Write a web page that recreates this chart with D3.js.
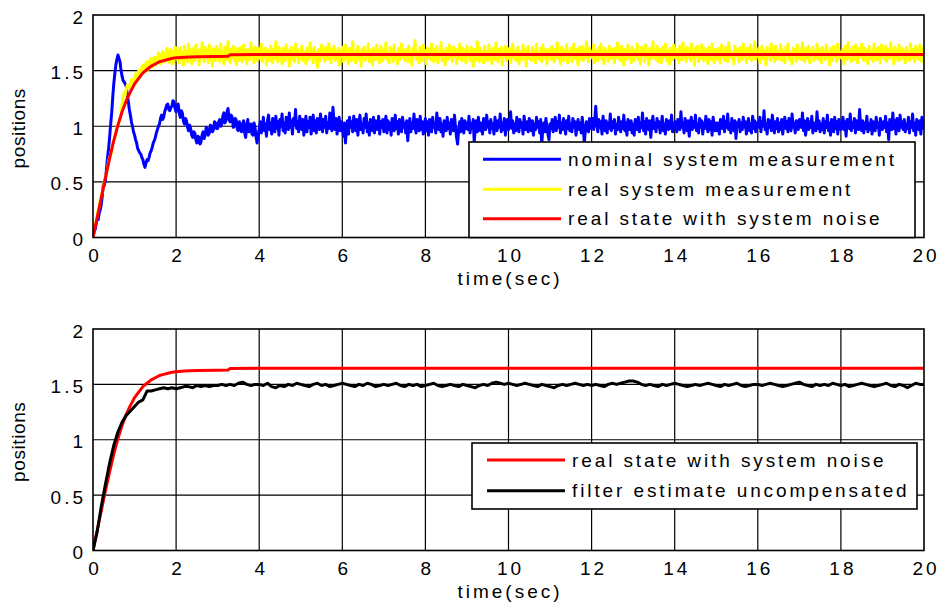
<!DOCTYPE html>
<html>
<head>
<meta charset="utf-8">
<script src="https://cdn.jsdelivr.net/npm/d3@7"></script>
<style>
  html, body { margin: 0; padding: 0; background: #fff; }
  svg { display: block; }
  text { font-family: "Liberation Sans", Arial, Helvetica, sans-serif; font-size: 19px; fill: #000; }
</style>
</head>
<body>
<svg id="chart" width="940" height="609"></svg>
<script>
// Simulation output sampled for the two position plots.
const sampleStep = 0.025;  // s, measurement series
const filterStep = 0.1;    // s, filter estimate

// Nominal system measurement (blue), t = 0 .. 20 s, one row = 0.5 s
const nominalMeasurement = [
  0.00, 0.05, 0.07, 0.12, 0.17, 0.16, 0.22, 0.25, 0.30, 0.38, 0.48, 0.47, 0.52, 0.62, 0.72, 0.80, 0.90, 1.02, 1.12, 1.26,
  1.38, 1.47, 1.55, 1.60, 1.64, 1.61, 1.58, 1.50, 1.45, 1.41, 1.40, 1.38, 1.36, 1.28, 1.22, 1.15, 1.10, 1.04, 1.00, 0.95,
  0.92, 0.88, 0.85, 0.80, 0.78, 0.76, 0.75, 0.72, 0.70, 0.66, 0.63, 0.67, 0.70, 0.69, 0.72, 0.76, 0.78, 0.81, 0.85, 0.87,
  0.90, 0.94, 0.97, 1.00, 1.02, 1.07, 1.10, 1.06, 1.08, 1.13, 1.16, 1.19, 1.20, 1.15, 1.14, 1.17, 1.18, 1.23, 1.22, 1.16,
  1.13, 1.18, 1.20, 1.12, 1.08, 1.14, 1.12, 1.05, 1.02, 1.07, 1.05, 0.99, 0.96, 1.01, 0.98, 0.92, 0.90, 0.95, 0.94, 0.88,
  0.85, 0.91, 0.90, 0.84, 0.86, 0.92, 0.95, 0.89, 0.92, 0.99, 0.98, 0.92, 0.94, 1.01, 1.00, 0.95, 0.97, 1.04, 1.03, 0.98,
  0.98, 1.04, 1.06, 1.00, 1.02, 1.09, 1.12, 1.03, 1.05, 1.13, 1.16, 1.06, 1.04, 1.10, 1.08, 0.99, 1.00, 1.07, 1.05, 0.97,
  0.96, 1.04, 1.02, 0.95, 0.98, 1.05, 0.94, 0.90, 1.01, 1.06, 0.95, 0.99, 1.02, 0.93, 0.92, 1.03, 0.99, 0.90, 0.85, 0.93,
  0.97,
  1.04, 0.94, 0.99, 1.08, 0.96, 1.02, 0.91, 1.05, 1.10, 0.97, 1.03, 0.93, 1.07, 1.01, 0.95, 1.09, 0.98, 1.04, 0.92, 1.06,
  1.00, 1.11, 0.96, 1.03, 0.94, 1.08, 1.02, 0.97, 1.12, 0.99, 1.05, 0.93, 1.07, 1.01, 1.15, 0.98, 1.04, 0.95, 1.09, 1.03,
  0.97, 1.06, 0.92, 1.01, 1.09, 0.95, 1.04, 0.99, 1.08, 0.93, 1.02, 1.10, 0.96, 1.05, 0.94, 1.07, 1.00, 0.97, 1.11, 1.02,
  0.95, 1.06, 0.99, 1.09, 0.94, 1.03, 0.98, 1.12, 1.01, 0.96, 1.17, 1.04, 0.97, 1.07, 0.93, 1.02, 1.08, 0.96, 1.04, 0.99,
  0.91, 1.03, 0.85, 0.97, 1.05, 0.93, 1.08, 0.99, 1.04, 0.95, 1.09, 1.01, 0.96, 1.06, 0.92, 1.03, 1.10, 0.97, 1.02, 0.94,
  1.07, 0.99, 1.11, 0.95, 1.03, 0.92, 1.06, 1.00, 0.96, 1.08, 0.94, 1.05, 1.01, 0.97, 1.09, 0.93, 1.04, 0.99, 1.06, 0.95,
  1.02, 1.09, 0.94, 1.05, 0.97, 1.03, 0.92, 1.07, 1.00, 0.96, 1.10, 0.98, 1.04, 0.93, 1.06, 1.01, 0.95, 1.08, 0.99, 1.03,
  0.94, 1.05, 0.87, 0.99, 1.07, 0.95, 1.03, 0.98, 1.11, 1.00, 0.94, 1.06, 1.02, 0.96, 1.09, 0.97, 1.04, 0.93, 1.02, 1.07,
  0.96, 1.04, 0.92, 1.06, 1.00, 0.95, 1.08, 0.99, 1.03, 0.94, 1.12, 1.01, 0.97, 1.07, 0.95, 1.02, 0.91, 1.05, 1.00, 0.96,
  1.08, 0.98, 1.03, 0.93, 1.06, 1.01, 0.96, 1.10, 0.99, 0.90, 0.84, 0.97, 1.04, 0.95, 1.07, 1.00, 0.94, 1.05, 0.98, 1.03,
  0.97, 1.09, 0.94, 1.02, 0.99, 1.06, 0.86, 0.98, 1.05, 0.95, 1.08, 1.00, 0.96, 1.03, 0.93, 1.07, 1.01, 0.97, 1.10, 0.99,
  1.04, 0.94, 1.06, 0.98, 1.02, 0.93, 1.08, 1.00, 0.96, 1.05, 0.99, 1.11, 0.95, 1.03, 0.97, 1.07, 0.92, 1.01, 1.06, 0.97,
  1.03, 1.13, 0.98, 1.05, 0.94, 1.02, 0.96, 1.08, 1.00, 0.95, 1.06, 0.99, 1.03, 0.93, 1.09, 1.01, 0.97, 1.04, 0.95, 1.07,
  1.00, 0.96, 1.05, 0.92, 1.02, 0.97, 1.08, 0.99, 1.04, 0.94, 1.06, 0.83, 0.98, 1.03, 0.95, 1.07, 1.00, 0.93, 0.88, 1.02,
  0.98, 1.06, 0.95, 1.02, 1.08, 0.96, 1.04, 0.99, 1.10, 0.94, 1.03, 0.97, 1.07, 1.00, 0.93, 1.05, 0.98, 1.09, 0.96, 1.02,
  0.95, 1.07, 0.99, 1.04, 0.92, 1.01, 1.06, 0.97, 1.03, 0.94, 1.08, 0.99, 0.85, 0.96, 1.04, 1.00, 0.95, 1.07, 0.98, 1.03,
  1.07, 0.97, 1.05, 1.18, 1.02, 0.95, 1.06, 0.99, 1.04, 0.93, 1.09, 1.00, 0.96, 1.05, 0.94, 1.03, 0.98, 1.11, 0.96, 1.04,
  0.99, 1.06, 0.93, 1.02, 0.97, 1.08, 1.00, 0.95, 1.04, 0.98, 1.10, 0.96, 1.03, 0.92, 1.06, 1.01, 0.97, 1.05, 0.94, 1.02,
  0.92, 1.06, 1.01, 0.97, 1.08, 0.95, 1.03, 0.99, 1.12, 0.96, 1.04, 0.93, 1.07, 1.00, 0.97, 1.05, 0.90, 1.02, 1.09, 0.98,
  1.03, 0.95, 1.07, 0.99, 1.04, 0.94, 1.01, 1.09, 0.96, 1.02, 0.93, 1.06, 1.00, 0.97, 1.05, 0.98, 1.10, 0.95, 1.03, 0.99,
  1.04, 0.95, 1.06, 1.00, 0.97, 1.13, 0.99, 1.03, 0.94, 1.07, 1.01, 0.96, 1.05, 0.91, 1.02, 1.08, 0.97, 1.04, 0.99, 1.10,
  0.96, 1.02, 0.94, 1.07, 0.99, 1.05, 0.93, 1.03, 0.98, 1.09, 1.00, 0.95, 1.06, 0.97, 1.04, 0.92, 1.08, 1.01, 0.96, 1.03,
  0.96, 1.03, 0.93, 1.06, 1.00, 0.98, 1.09, 0.95, 1.04, 0.99, 1.11, 0.97, 1.02, 0.94, 1.07, 1.01, 0.96, 1.05, 0.89, 1.03,
  1.00, 1.06, 0.95, 1.03, 0.97, 1.08, 0.99, 1.04, 0.93, 1.01, 1.07, 0.96, 1.02, 0.94, 1.09, 0.98, 1.05, 0.95, 1.03, 0.99,
  0.99, 1.08, 0.95, 1.04, 1.00, 1.14, 0.97, 1.02, 0.93, 1.06, 0.99, 1.05, 0.96, 1.10, 1.01, 0.94, 1.04, 0.98, 1.07, 0.95,
  1.03, 0.97, 1.06, 0.93, 1.02, 1.08, 0.98, 1.04, 0.95, 1.07, 1.00, 0.96, 1.11, 0.99, 1.03, 0.94, 1.05, 1.01, 0.97, 1.06,
  1.03, 0.99, 1.12, 0.96, 1.05, 0.92, 1.01, 1.07, 0.97, 1.04, 0.99, 1.09, 0.94, 1.03, 1.00, 0.96, 1.13, 0.98, 1.05, 0.95,
  1.02, 0.97, 1.07, 0.94, 1.04, 0.99, 1.10, 0.96, 1.03, 0.92, 1.06, 1.00, 0.95, 1.08, 0.98, 1.04, 0.93, 1.06, 1.01, 0.97,
  1.02, 1.08, 0.97, 1.04, 0.91, 1.06, 1.00, 0.98, 1.11, 0.96, 1.03, 0.99, 1.07, 0.94, 1.05, 1.01, 0.97, 1.15, 1.00, 0.96,
  1.05, 0.94, 1.03, 0.98, 1.09, 0.95, 1.02, 0.97, 1.06, 0.93, 1.04, 1.00, 0.96, 1.08, 0.99, 1.03, 0.92, 1.07, 1.01, 0.97,
  1.04, 0.99, 1.09, 0.95, 1.03, 0.88, 1.06, 1.01, 0.97, 1.12, 0.98, 1.05, 0.93, 1.07, 1.00, 0.96, 1.10, 0.99, 1.04, 0.97,
  1.06, 0.95, 1.02, 0.98, 1.08, 0.94, 1.04, 0.99, 1.11, 0.96, 1.03, 0.92, 1.06, 1.00, 0.97, 1.05, 0.93, 1.08, 1.01, 0.98
];

// Real system measurement (yellow), t = 0 .. 20 s, one row = 0.5 s
const realMeasurement = [
  0.02, 0.08, 0.12, 0.15, 0.20, 0.25, 0.28, 0.34, 0.38, 0.41, 0.46, 0.52, 0.55, 0.58, 0.62, 0.68, 0.72, 0.74, 0.78, 0.85,
  0.88, 0.90, 0.93, 0.99, 1.02, 1.04, 1.06, 1.12, 1.20, 1.26, 1.30, 1.28, 1.33, 1.37, 1.36, 1.34, 1.38, 1.42, 1.40, 1.36,
  1.44, 1.47, 1.40, 1.45, 1.50, 1.44, 1.46, 1.53, 1.55, 1.48, 1.50, 1.57, 1.58, 1.51, 1.54, 1.60, 1.61, 1.53, 1.56, 1.62,
  1.62, 1.55, 1.58, 1.66, 1.65, 1.56, 1.57, 1.67, 1.66, 1.58, 1.60, 1.70, 1.68, 1.57, 1.58, 1.69, 1.66, 1.56, 1.61, 1.71,
  1.70,
  1.60, 1.68, 1.57, 1.71, 1.63, 1.66, 1.55, 1.72, 1.61, 1.67, 1.58, 1.74, 1.62, 1.69, 1.56, 1.66, 1.70, 1.59, 1.73, 1.62,
  1.67, 1.55, 1.69, 1.61, 1.75, 1.64, 1.58, 1.71, 1.63, 1.68, 1.57, 1.73, 1.60, 1.66, 1.54, 1.70, 1.65, 1.59, 1.72, 1.62,
  1.68, 1.58, 1.74, 1.61, 1.66, 1.56, 1.71, 1.64, 1.60, 1.76, 1.63, 1.57, 1.69, 1.62, 1.72, 1.59, 1.67, 1.55, 1.70, 1.63,
  1.59, 1.71, 1.65, 1.58, 1.73, 1.61, 1.68, 1.56, 1.69, 1.64, 1.60, 1.75, 1.62, 1.67, 1.57, 1.71, 1.63, 1.59, 1.70, 1.66,
  1.61, 1.74, 1.58, 1.67, 1.62, 1.70, 1.55, 1.68, 1.64, 1.59, 1.72, 1.63, 1.57, 1.69, 1.61, 1.76, 1.65, 1.58, 1.71, 1.62,
  1.67, 1.56, 1.70, 1.63, 1.59, 1.73, 1.62, 1.68, 1.54, 1.66, 1.71, 1.60, 1.65, 1.58, 1.74, 1.63, 1.69, 1.57, 1.66, 1.61,
  1.72, 1.59, 1.67, 1.63, 1.56, 1.70, 1.64, 1.60, 1.75, 1.62, 1.68, 1.57, 1.71, 1.61, 1.66, 1.53, 1.69, 1.64, 1.59, 1.73,
  1.62, 1.67, 1.58, 1.71, 1.63, 1.60, 1.74, 1.65, 1.57, 1.69, 1.62, 1.72, 1.59, 1.66, 1.61, 1.70, 1.55, 1.68, 1.63, 1.71,
  1.58, 1.66, 1.73, 1.61, 1.67, 1.56, 1.70, 1.64, 1.59, 1.76, 1.62, 1.68, 1.57, 1.65, 1.72, 1.60, 1.67, 1.54, 1.69, 1.63,
  1.71, 1.59, 1.66, 1.62, 1.74, 1.58, 1.68, 1.63, 1.55, 1.70, 1.65, 1.60, 1.73, 1.61, 1.67, 1.57, 1.72, 1.64, 1.59, 1.69,
  1.62, 1.75, 1.60, 1.66, 1.57, 1.71, 1.63, 1.68, 1.58, 1.73, 1.61, 1.65, 1.56, 1.70, 1.64, 1.60, 1.74, 1.62, 1.67, 1.59,
  1.69, 1.63, 1.58, 1.72, 1.61, 1.66, 1.55, 1.70, 1.64, 1.77, 1.60, 1.67, 1.62, 1.57, 1.71, 1.65, 1.59, 1.73, 1.63, 1.68,
  1.56, 1.70, 1.62, 1.67, 1.60, 1.74, 1.64, 1.58, 1.69, 1.61, 1.72, 1.57, 1.66, 1.63, 1.75, 1.59, 1.68, 1.62, 1.55, 1.70,
  1.65, 1.60, 1.73, 1.62, 1.67, 1.58, 1.71, 1.63, 1.69, 1.56, 1.66, 1.61, 1.74, 1.64, 1.59, 1.70, 1.62, 1.68, 1.57, 1.72,
  1.63, 1.67, 1.59, 1.71, 1.62, 1.54, 1.69, 1.65, 1.60, 1.76, 1.63, 1.58, 1.70, 1.64, 1.67, 1.57, 1.72, 1.61, 1.66, 1.59,
  1.73, 1.62, 1.68, 1.56, 1.70, 1.64, 1.60, 1.75, 1.63, 1.58, 1.69, 1.62, 1.71, 1.55, 1.66, 1.64, 1.72, 1.59, 1.67, 1.61,
  1.70, 1.57, 1.65, 1.74, 1.62, 1.68, 1.59, 1.63, 1.71, 1.56, 1.67, 1.64, 1.60, 1.73, 1.62, 1.69, 1.54, 1.66, 1.72, 1.61,
  1.65, 1.59, 1.71, 1.63, 1.68, 1.57, 1.74, 1.62, 1.66, 1.60, 1.70, 1.58, 1.73, 1.64, 1.61, 1.69, 1.56, 1.67, 1.63, 1.70,
  1.60, 1.72, 1.64, 1.58, 1.69, 1.62, 1.75, 1.61, 1.66, 1.56, 1.71, 1.63, 1.59, 1.68, 1.65, 1.73, 1.57, 1.67, 1.62, 1.70,
  1.58, 1.66, 1.74, 1.61, 1.69, 1.63, 1.55, 1.71, 1.64, 1.60, 1.72, 1.59, 1.68, 1.62, 1.76, 1.65, 1.58, 1.70, 1.63, 1.67,
  1.61, 1.73, 1.57, 1.68, 1.64, 1.59, 1.71, 1.62, 1.74, 1.60, 1.66, 1.56, 1.70, 1.63, 1.67, 1.58, 1.72, 1.65, 1.61, 1.69,
  1.64, 1.57, 1.70, 1.62, 1.75, 1.61, 1.67, 1.59, 1.72, 1.63, 1.55, 1.69, 1.65, 1.60, 1.73, 1.62, 1.68, 1.57, 1.71, 1.64,
  1.59, 1.68, 1.63, 1.74, 1.60, 1.66, 1.56, 1.71, 1.64, 1.69, 1.58, 1.73, 1.62, 1.67, 1.55, 1.70, 1.65, 1.61, 1.76, 1.63,
  1.67, 1.60, 1.72, 1.58, 1.69, 1.64, 1.57, 1.71, 1.62, 1.66, 1.74, 1.59, 1.68, 1.63, 1.56, 1.70, 1.65, 1.60, 1.73, 1.62,
  1.69, 1.61, 1.66, 1.57, 1.72, 1.64, 1.60, 1.75, 1.62, 1.68, 1.58, 1.71, 1.63, 1.67, 1.59, 1.74, 1.61, 1.66, 1.55, 1.70,
  1.63, 1.72, 1.58, 1.67, 1.61, 1.73, 1.64, 1.59, 1.70, 1.62, 1.68, 1.56, 1.71, 1.65, 1.60, 1.74, 1.63, 1.57, 1.69, 1.66,
  1.60, 1.70, 1.64, 1.57, 1.73, 1.62, 1.67, 1.59, 1.71, 1.65, 1.58, 1.75, 1.63, 1.68, 1.61, 1.66, 1.56, 1.72, 1.64, 1.69,
  1.62, 1.58, 1.71, 1.65, 1.60, 1.74, 1.63, 1.67, 1.57, 1.70, 1.64, 1.61, 1.73, 1.59, 1.68, 1.62, 1.76, 1.60, 1.66, 1.63,
  1.70, 1.57, 1.65, 1.72, 1.61, 1.68, 1.63, 1.55, 1.71, 1.64, 1.69, 1.59, 1.74, 1.62, 1.66, 1.58, 1.72, 1.65, 1.60, 1.67,
  1.63, 1.73, 1.59, 1.68, 1.62, 1.57, 1.71, 1.65, 1.74, 1.60, 1.67, 1.62, 1.56, 1.70, 1.64, 1.69, 1.58, 1.73, 1.61, 1.66,
  1.68, 1.60, 1.75, 1.63, 1.58, 1.70, 1.65, 1.61, 1.72, 1.57, 1.67, 1.64, 1.71, 1.59, 1.66, 1.62, 1.74, 1.60, 1.69, 1.63,
  1.57, 1.71, 1.64, 1.68, 1.60, 1.73, 1.62, 1.66, 1.55, 1.70, 1.65, 1.59, 1.72, 1.63, 1.68, 1.58, 1.74, 1.61, 1.67, 1.64,
  1.61, 1.69, 1.56, 1.72, 1.64, 1.60, 1.75, 1.62, 1.67, 1.58, 1.71, 1.65, 1.60, 1.73, 1.63, 1.57, 1.70, 1.66, 1.62, 1.74,
  1.65, 1.59, 1.70, 1.63, 1.68, 1.56, 1.72, 1.61, 1.67, 1.64, 1.58, 1.74, 1.62, 1.69, 1.60, 1.71, 1.65, 1.57, 1.73, 1.63,
  1.66, 1.60, 1.72, 1.58, 1.69, 1.64, 1.61, 1.75, 1.63, 1.67, 1.56, 1.71, 1.62, 1.68, 1.59, 1.73, 1.64, 1.60, 1.70, 1.62,
  1.68, 1.57, 1.71, 1.63, 1.66, 1.59, 1.74, 1.61, 1.69, 1.64, 1.58, 1.72, 1.62, 1.67, 1.60, 1.73, 1.63, 1.58, 1.70, 1.65
];

// Real state with system noise (red): breakpoints in time and value
const realStateTime = [
  0, 0.1, 0.2, 0.3, 0.4, 0.5, 0.6, 0.7, 0.8, 0.9, 1.0,
  1.1, 1.2, 1.3, 1.4, 1.5, 1.6, 1.7, 1.8, 1.9, 2.0,
  2.2, 2.5, 3.0, 3.25, 3.3, 4.0, 6.0, 20.0
];
const realStateValue = [
  0.00, 0.18, 0.36, 0.54, 0.71, 0.87, 1.01, 1.13, 1.23, 1.31, 1.38,
  1.43, 1.48, 1.51, 1.54, 1.56, 1.58, 1.59, 1.60, 1.61, 1.615,
  1.62, 1.625, 1.628, 1.63, 1.643, 1.645, 1.645, 1.645
];

// Filter estimate uncompensated (black), t = 0 .. 20 s, one row = 1 s
const filterEstimate = [
  0.00, 0.17, 0.40, 0.60, 0.79, 0.95, 1.07, 1.16, 1.22, 1.26,
  1.30, 1.34, 1.36, 1.44, 1.44, 1.45, 1.46, 1.47, 1.46, 1.47,
  1.46, 1.47, 1.48, 1.48, 1.47, 1.49, 1.48, 1.49, 1.48, 1.49,
  1.49, 1.50, 1.49, 1.50, 1.49, 1.51, 1.52, 1.50, 1.49, 1.50,
  1.50, 1.49, 1.51, 1.48, 1.47, 1.49, 1.48, 1.50, 1.49, 1.51,
  1.50, 1.49, 1.48, 1.50, 1.51, 1.49, 1.50, 1.48, 1.49, 1.50,
  1.51, 1.50, 1.49, 1.48, 1.50, 1.49, 1.51, 1.50, 1.48, 1.49,
  1.50, 1.49, 1.50, 1.51, 1.49, 1.48, 1.50, 1.49, 1.50, 1.48,
  1.49, 1.50, 1.51, 1.49, 1.48, 1.49, 1.50, 1.49, 1.48, 1.50,
  1.49, 1.48, 1.47, 1.49, 1.50, 1.49, 1.51, 1.52, 1.51, 1.50,
  1.51, 1.50, 1.49, 1.50, 1.51, 1.50, 1.49, 1.48, 1.50, 1.49,
  1.48, 1.47, 1.49, 1.50, 1.49, 1.50, 1.51, 1.50, 1.49, 1.50,
  1.49, 1.50, 1.49, 1.48, 1.50, 1.51, 1.50, 1.51, 1.52, 1.53,
  1.53, 1.52, 1.50, 1.49, 1.50, 1.49, 1.48, 1.50, 1.49, 1.50,
  1.51, 1.50, 1.49, 1.48, 1.49, 1.50, 1.49, 1.50, 1.51, 1.50,
  1.49, 1.48, 1.50, 1.49, 1.50, 1.51, 1.49, 1.48, 1.49, 1.50,
  1.50, 1.49, 1.50, 1.51, 1.50, 1.49, 1.48, 1.49, 1.50, 1.51,
  1.52, 1.50, 1.49, 1.48, 1.50, 1.49, 1.50, 1.49, 1.51, 1.50,
  1.49, 1.50, 1.48, 1.49, 1.50, 1.51, 1.50, 1.49, 1.48, 1.49,
  1.50, 1.51, 1.49, 1.48, 1.50, 1.49, 1.47, 1.49, 1.51, 1.50,
  1.50
];

// Axis ticks
const xTicks = [0, 2, 4, 6, 8, 10, 12, 14, 16, 18, 20];
const yTicks = [0, 0.5, 1, 1.5, 2];
const yTickLabels = ["0", "0.5", "1", "1.5", "2"];

// Series names and colours
const topSeries = ["nominal system measurement", "real system measurement", "real state with system noise"];
const topColors = ["#0000ff", "#ffff00", "#ff0000"];
const bottomSeries = ["real state with system noise", "filter estimate uncompensated"];
const bottomColors = ["#ff0000", "#000000"];

const xLabel = "time(sec)";
const yLabel = "positions";

// ---------------------------------------------------------------
const svg = d3.select("#chart");
const left = 93, right = 924;
const fontFamily = '"Liberation Sans", Arial, sans-serif';

const toPoints = (values, step) => values.map((v, i) => [i * step, v]);
const zipPoints = (ts, vs) => ts.map((t, i) => [t, vs[i]]);

function drawPanel(cfg) {
  const x = d3.scaleLinear().domain([0, 20]).range([left, right]);
  const y = d3.scaleLinear().domain([0, 2]).range([cfg.bottom, cfg.top]);
  const g = svg.append("g");

  const clipId = "clip" + cfg.id;
  svg.append("clipPath").attr("id", clipId)
    .append("rect").attr("x", left).attr("y", cfg.top)
    .attr("width", right - left).attr("height", cfg.bottom - cfg.top);

  // grid
  g.append("g").selectAll("line").data(xTicks.slice(1, -1)).join("line")
    .attr("x1", d => x(d)).attr("x2", d => x(d))
    .attr("y1", cfg.top).attr("y2", cfg.bottom)
    .attr("stroke", "#000").attr("stroke-width", 1.2);
  g.append("g").selectAll("line").data(yTicks.slice(1, -1)).join("line")
    .attr("x1", left).attr("x2", right)
    .attr("y1", d => y(d)).attr("y2", d => y(d))
    .attr("stroke", "#000").attr("stroke-width", 1.2);

  // series
  const line = d3.line().x(d => x(d[0])).y(d => y(d[1]));
  const lines = g.append("g").attr("clip-path", `url(#${clipId})`);
  cfg.series.forEach(s => {
    lines.append("path").datum(s.points)
      .attr("d", line).attr("fill", "none")
      .attr("stroke", s.color).attr("stroke-width", 3)
      .attr("stroke-linejoin", "round").attr("stroke-linecap", "round");
  });

  // axes box
  g.append("rect").attr("x", left).attr("y", cfg.top)
    .attr("width", right - left).attr("height", cfg.bottom - cfg.top)
    .attr("fill", "none").attr("stroke", "#000").attr("stroke-width", 1.6);

  // x axis labels
  const xa = g.append("g").attr("transform", `translate(0,${cfg.bottom})`)
    .call(d3.axisBottom(x).tickValues(xTicks).tickSize(0).tickPadding(0).tickFormat(d3.format("d")));
  xa.select(".domain").remove();
  xa.selectAll("text")
    .attr("y", 24).attr("dy", null).attr("dx", 1.5)
    .style("font-family", fontFamily)
    .style("font-size", "19px").style("letter-spacing", "3px").attr("fill", "#000");

  // y axis labels
  const ya = g.append("g").attr("transform", `translate(${left},0)`)
    .call(d3.axisLeft(y).tickValues(yTicks).tickSize(0).tickPadding(0)
      .tickFormat((d, i) => yTickLabels[i]));
  ya.select(".domain").remove();
  ya.selectAll("text")
    .attr("x", -7).attr("dy", null).attr("y", 8)
    .style("font-family", fontFamily)
    .style("font-size", "19px").style("letter-spacing", "3px").attr("fill", "#000");

  // axis titles
  g.append("text").attr("x", (left + right) / 2 + 1.5).attr("y", cfg.bottom + 47.5)
    .attr("text-anchor", "middle").style("letter-spacing", "3px").text(xLabel);
  g.append("text")
    .attr("transform", `translate(25,${(cfg.top + cfg.bottom) / 2 + 2}) rotate(-90)`)
    .attr("text-anchor", "middle").style("letter-spacing", "0.6px").text(yLabel);

  // legend
  const L = cfg.legend;
  const lg = g.append("g");
  lg.append("rect").attr("x", L.x0).attr("y", L.y0)
    .attr("width", L.x1 - L.x0).attr("height", L.y1 - L.y0)
    .attr("fill", "#fff").attr("stroke", "#000").attr("stroke-width", 1.6);
  L.names.forEach((name, i) => {
    const ry = L.rows[i];
    lg.append("line").attr("x1", L.lx0).attr("x2", L.lx1)
      .attr("y1", ry).attr("y2", ry)
      .attr("stroke", L.colors[i]).attr("stroke-width", 3);
    lg.append("text").attr("x", L.tx).attr("y", ry + 6.5)
      .style("letter-spacing", "2.9px").text(name);
  });
}

drawPanel({
  id: "top", top: 15, bottom: 237.5,
  series: [
    { points: toPoints(nominalMeasurement, sampleStep), color: topColors[0] },
    { points: toPoints(realMeasurement, sampleStep), color: topColors[1] },
    { points: zipPoints(realStateTime, realStateValue), color: topColors[2] }
  ],
  legend: {
    x0: 469, x1: 915, y0: 142, y1: 237.5,
    lx0: 483, lx1: 561, tx: 568,
    rows: [159.3, 189.3, 218.7],
    names: topSeries, colors: topColors
  }
});

drawPanel({
  id: "bottom", top: 329, bottom: 550.5,
  series: [
    { points: zipPoints(realStateTime, realStateValue), color: bottomColors[0] },
    { points: toPoints(filterEstimate, filterStep), color: bottomColors[1] }
  ],
  legend: {
    x0: 472, x1: 917, y0: 443, y1: 509,
    lx0: 487, lx1: 565, tx: 572,
    rows: [460, 490.7],
    names: bottomSeries, colors: bottomColors
  }
});
</script>
</body>
</html>
